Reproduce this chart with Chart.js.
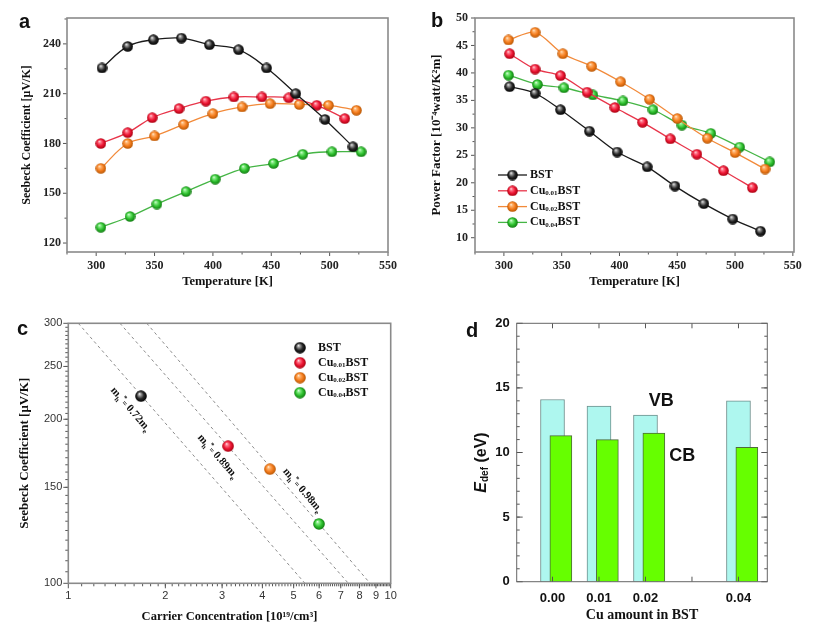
<!DOCTYPE html>
<html>
<head>
<meta charset="utf-8">
<title>Seebeck, power factor, Pisarenko plot and deformation potential of Cu-doped BST</title>
<script src="https://cdn.jsdelivr.net/npm/chart.js@4.4.1/dist/chart.umd.min.js"></script>
<style>
html,body{margin:0;padding:0;background:#fff;}
#wrap{position:relative;width:820px;height:636px;overflow:hidden;background:#fff;}
#wrap canvas{position:absolute;}
.pl{position:absolute;font-family:"Liberation Sans",Arial,sans-serif;font-weight:bold;font-size:20px;line-height:20px;color:#111;}
</style>
</head>
<body>
<div id="wrap">
  <canvas id="cA" width="410" height="300" style="left:0;top:0;"></canvas>
  <canvas id="cB" width="410" height="300" style="left:410px;top:0;"></canvas>
  <canvas id="cC" width="410" height="336" style="left:0;top:300px;"></canvas>
  <canvas id="cD" width="410" height="336" style="left:410px;top:300px;"></canvas>
  <div class="pl" style="left:19px;top:11px;">a</div>
  <div class="pl" style="left:431px;top:10px;">b</div>
  <div class="pl" style="left:17px;top:318px;">c</div>
  <div class="pl" style="left:466px;top:320px;">d</div>
</div>
<script>
const SERIF = '"Liberation Serif","Times New Roman",serif';
const SANS = '"Liberation Sans",Arial,Helvetica,sans-serif';

/* ================= DATA ================= */
const seriesNames = ['BST', 'Cu0.01BST', 'Cu0.02BST', 'Cu0.04BST'];

// (a) Seebeck coefficient [uV/K] vs temperature [K]
const aTempBST  = [305, 327, 349, 373, 397, 422, 446, 471, 496, 520];
const aSeebBST  = [225.5, 238.5, 242.5, 243.5, 239.5, 236.5, 225.5, 210, 194.5, 178];
const aTempCu01 = [304, 327, 348, 371, 394, 418, 442, 465, 489, 513];
const aSeebCu01 = [180, 186.5, 195.5, 201, 205.5, 208, 208, 207.5, 203, 195];
const aTempCu02 = [304, 327, 350, 375, 400, 425, 449, 474, 499, 523];
const aSeebCu02 = [165, 180, 184.5, 191.5, 198, 202, 204, 203.5, 203, 200];
const aTempCu04 = [304, 329, 352, 377, 402, 427, 452, 477, 502, 527];
const aSeebCu04 = [129.5, 136, 143.5, 151, 158.5, 165, 168, 173.5, 175, 175];
const aXTicks = [300, 350, 400, 450, 500, 550];
const aYTicks = [120, 150, 180, 210, 240];

// (b) Power factor [1e-4 W/K^2 m] vs temperature [K]
const bTempBST  = [305, 327, 349, 374, 398, 424, 448, 473, 498, 522];
const bPfBST    = [37.5, 36.3, 33.3, 29.4, 25.6, 22.9, 19.4, 16.2, 13.4, 11.2];
const bTempCu01 = [305, 327, 349, 372, 396, 420, 444, 467, 490, 515];
const bPfCu01   = [43.5, 40.7, 39.5, 36.5, 33.7, 31.0, 28.0, 25.2, 22.2, 19.1];
const bTempCu02 = [304, 327, 351, 376, 401, 426, 450, 476, 500, 526];
const bPfCu02   = [46.0, 47.4, 43.5, 41.2, 38.4, 35.2, 31.7, 28.1, 25.5, 22.5];
const bTempCu04 = [304, 329, 352, 377, 403, 429, 454, 479, 504, 530];
const bPfCu04   = [39.6, 37.9, 37.3, 36.0, 34.9, 33.3, 30.5, 29.0, 26.5, 23.8];
const bXTicks = [300, 350, 400, 450, 500, 550];
const bYTicks = [10, 15, 20, 25, 30, 35, 40, 45, 50];

// (c) Pisarenko plot: Seebeck vs carrier concentration [1e19 /cm3]
const cCarrier = [1.68, 3.13, 4.22, 5.99];
const cSeebeck = [220.5, 178.5, 162, 128.5];
const massValues = ['0.72', '0.89', '0.98'];
const massLineS = [300, 100];
const massLineN072 = [1.074, 5.42];
const massLineN089 = [1.446, 7.39];
const massLineN098 = [1.751, 8.63];
const cXTicks = [1, 2, 3, 4, 5, 6, 7, 8, 9, 10];
const cYTicks = [100, 150, 200, 250, 300];

// (d) deformation potential E_def [eV] vs Cu amount
const dCu = [0.00, 0.01, 0.02, 0.04];
const dVB = [14.1, 13.6, 12.9, 14.0];
const dCB = [11.3, 11.0, 11.5, 10.4];
const dBandNames = ['VB', 'CB'];
const dXTicks = [0.00, 0.01, 0.02, 0.04];
const dYTicks = [0, 5, 10, 15, 20];

/* ================= STYLE HELPERS ================= */
const lineColors = ['#1b1b1b', '#e8354a', '#f28a3a', '#45b545'];
const ballColors = [
  ['#ffffff', '#a0a0a0', '#262626', '#000000'],
  ['#fff4f6', '#ff7a8c', '#ee1634', '#a3000e'],
  ['#fff8ec', '#ffb774', '#f57d1e', '#b35300'],
  ['#f2fff2', '#8aee8a', '#2fc12f', '#0d760d']
];
function makeBall(cols, d) {
  const c = document.createElement('canvas');
  c.width = d; c.height = d;
  const g = c.getContext('2d');
  const r = d / 2;
  const gr = g.createRadialGradient(r * 0.72, r * 0.6, 0, r, r, r);
  gr.addColorStop(0, cols[0]);
  gr.addColorStop(0.22, cols[1]);
  gr.addColorStop(0.6, cols[2]);
  gr.addColorStop(1, cols[3]);
  g.fillStyle = gr;
  g.beginPath(); g.arc(r, r, r - 0.2, 0, Math.PI * 2); g.fill();
  return c;
}
const ballsAB = ballColors.map(c => makeBall(c, 11));
const ballsC = ballColors.map(c => makeBall(c, 12));

function fixTicks(vals) { return s => { s.ticks = vals.map(v => ({ value: v })); }; }
function fixSize(prop, px) { return s => { s[prop] = px; }; }
function range(a, b, step) { const out = []; for (let v = a; v <= b + 1e-9; v += step) out.push(+v.toFixed(6)); return out; }

function seriesDS(label, xs, ys, i, balls, tension, size) {
  return {
    label, data: xs.map((x, k) => ({ x, y: ys[k] })),
    borderColor: lineColors[i], backgroundColor: lineColors[i], borderWidth: 1.3,
    pointStyle: balls[i], pointRadius: size, pointHoverRadius: size,
    tension, fill: false
  };
}

// frame + minor/major tick marks drawn on the library's scales
function makeFrame(cfg) {
  return {
    id: 'frame' + Math.random().toString(36).slice(2),
    afterDraw(chart) {
      const ctx = chart.ctx, a = chart.chartArea;
      ctx.save();
      ctx.strokeStyle = cfg.tickColor;
      cfg.marks.forEach(m => {
        const sc = chart.scales[m.scale];
        ctx.lineWidth = m.width || 1;
        m.values.forEach(v => {
          const p = sc.getPixelForValue(v);
          ctx.beginPath();
          if (m.side === 'bottom') { ctx.moveTo(p, a.bottom); ctx.lineTo(p, a.bottom + m.len); }
          else if (m.side === 'top') { ctx.moveTo(p, a.top); ctx.lineTo(p, a.top - m.len); }
          else if (m.side === 'left') { ctx.moveTo(a.left, p); ctx.lineTo(a.left - m.len, p); }
          else { ctx.moveTo(a.right, p); ctx.lineTo(a.right + m.len, p); }
          ctx.stroke();
        });
      });
      ctx.strokeStyle = cfg.frameColor; ctx.lineWidth = cfg.frameWidth;
      ctx.strokeRect(a.left, a.top, a.right - a.left, a.bottom - a.top);
      ctx.restore();
    }
  };
}

function drawCuLabel(ctx, name, x, y, size) {
  const m = /^Cu([\d.]+)BST$/.exec(name);
  const big = 'bold ' + size + 'px ' + SERIF, small = 'bold ' + Math.round(size * 0.6) + 'px ' + SERIF;
  ctx.textBaseline = 'middle'; ctx.textAlign = 'left';
  ctx.font = big;
  if (!m) { ctx.fillText(name, x, y); return; }
  ctx.fillText('Cu', x, y); x += ctx.measureText('Cu').width;
  ctx.font = small; ctx.fillText(m[1], x, y + size * 0.2); x += ctx.measureText(m[1]).width;
  ctx.font = big; ctx.fillText('BST', x, y);
}
function makeLegend(cfg) {
  return {
    id: 'legend' + Math.random().toString(36).slice(2),
    afterDraw(chart) {
      const ctx = chart.ctx;
      ctx.save();
      seriesNames.forEach((name, i) => {
        const y = cfg.y + i * cfg.dy;
        let x = cfg.x;
        const b = cfg.balls[i];
        if (cfg.lineLen) {
          ctx.strokeStyle = lineColors[i]; ctx.lineWidth = 1.3;
          ctx.beginPath(); ctx.moveTo(x, y); ctx.lineTo(x + cfg.lineLen, y); ctx.stroke();
          ctx.drawImage(b, x + cfg.lineLen / 2 - b.width / 2, y - b.height / 2);
          x += cfg.lineLen + cfg.gap;
        } else {
          ctx.drawImage(b, x - b.width / 2, y - b.height / 2);
          x += cfg.gap;
        }
        ctx.fillStyle = '#111';
        drawCuLabel(ctx, name, x, y, cfg.size);
      });
      ctx.restore();
    }
  };
}

const tickFontSerif = { family: SERIF, weight: 'bold', size: 12 };
const titleFontSerif = (s) => ({ family: SERIF, weight: 'bold', size: s });
const baseOpts = { responsive: false, animation: false, events: [] };
const noGrid = { display: false, drawTicks: false };

/* ================= (a) ================= */
new Chart(document.getElementById('cA'), {
  type: 'line',
  data: { datasets: [
    seriesDS(seriesNames[0], aTempBST, aSeebBST, 0, ballsAB, 0.4, 5.5),
    seriesDS(seriesNames[1], aTempCu01, aSeebCu01, 1, ballsAB, 0.4, 5.5),
    seriesDS(seriesNames[2], aTempCu02, aSeebCu02, 2, ballsAB, 0.4, 5.5),
    seriesDS(seriesNames[3], aTempCu04, aSeebCu04, 3, ballsAB, 0.4, 5.5)
  ]},
  options: Object.assign({}, baseOpts, {
    layout: { padding: { top: 18, right: 22, left: 0, bottom: 0 } },
    plugins: { legend: { display: false }, tooltip: { enabled: false } },
    scales: {
      x: { type: 'linear', min: 275, max: 550,
        afterBuildTicks: fixTicks(aXTicks), afterFit: fixSize('height', 48),
        grid: noGrid, border: { display: false },
        ticks: { font: tickFontSerif, color: '#222', padding: 7, autoSkip: false, maxRotation: 0 },
        title: { display: true, text: 'Temperature [K]', font: titleFontSerif(12.5), color: '#111', padding: { top: 0, bottom: 10.5 } } },
      y: { type: 'linear', min: 114.6, max: 255.6,
        afterBuildTicks: fixTicks(aYTicks), afterFit: fixSize('width', 67),
        grid: noGrid, border: { display: false },
        ticks: { font: tickFontSerif, color: '#222', padding: 6, autoSkip: false },
        title: { display: true, text: 'Seebeck Coefficient [μV/K]', font: titleFontSerif(12), color: '#111', padding: { top: 19.8, bottom: 0 } } }
    }
  }),
  plugins: [makeFrame({ tickColor: '#555', frameColor: '#8a8a8a', frameWidth: 1.6, marks: [
    { scale: 'x', side: 'bottom', values: aXTicks, len: 4 },
    { scale: 'x', side: 'bottom', values: range(275, 525, 50), len: 2.5 },
    { scale: 'y', side: 'left', values: aYTicks, len: 4 },
    { scale: 'y', side: 'left', values: range(135, 255, 30), len: 2.5 }
  ]})]
});

/* ================= (b) ================= */
new Chart(document.getElementById('cB'), {
  type: 'line',
  data: { datasets: [
    seriesDS(seriesNames[0], bTempBST, bPfBST, 0, ballsAB, 0.3, 5.5),
    seriesDS(seriesNames[1], bTempCu01, bPfCu01, 1, ballsAB, 0.3, 5.5),
    seriesDS(seriesNames[2], bTempCu02, bPfCu02, 2, ballsAB, 0.3, 5.5),
    seriesDS(seriesNames[3], bTempCu04, bPfCu04, 3, ballsAB, 0.3, 5.5)
  ]},
  options: Object.assign({}, baseOpts, {
    layout: { padding: { top: 18, right: 26, left: 0, bottom: 0 } },
    plugins: { legend: { display: false }, tooltip: { enabled: false } },
    scales: {
      x: { type: 'linear', min: 275, max: 551,
        afterBuildTicks: fixTicks(bXTicks), afterFit: fixSize('height', 48),
        grid: noGrid, border: { display: false },
        ticks: { font: tickFontSerif, color: '#222', padding: 7, autoSkip: false, maxRotation: 0 },
        title: { display: true, text: 'Temperature [K]', font: titleFontSerif(12.5), color: '#111', padding: { top: 0, bottom: 10.5 } } },
      y: { type: 'linear', min: 7.4, max: 50,
        afterBuildTicks: fixTicks(bYTicks), afterFit: fixSize('width', 65),
        grid: noGrid, border: { display: false },
        ticks: { font: tickFontSerif, color: '#222', padding: 7, autoSkip: false },
        title: { display: true, text: 'Power Factor [10⁻⁴watt/K²m]', font: titleFontSerif(13), color: '#111', padding: { top: 19, bottom: 0 } } }
    }
  }),
  plugins: [
    makeFrame({ tickColor: '#555', frameColor: '#8a8a8a', frameWidth: 1.6, marks: [
      { scale: 'x', side: 'bottom', values: bXTicks, len: 4 },
      { scale: 'x', side: 'bottom', values: range(275, 525, 50), len: 2.5 },
      { scale: 'y', side: 'left', values: bYTicks, len: 4 },
      { scale: 'y', side: 'left', values: range(12.5, 47.5, 5), len: 2.5 }
    ]}),
    makeLegend({ x: 88, y: 175, dy: 15.8, lineLen: 29, gap: 3, size: 12, balls: ballsAB })
  ]
});

/* ================= (c) ================= */
function dashDS(ns) {
  return {
    label: 'm*', data: ns.map((n, k) => ({ x: n, y: massLineS[k] })),
    showLine: true, borderColor: '#8c8c8c', borderWidth: 1, borderDash: [3, 3],
    pointRadius: 0, pointHoverRadius: 0, fill: false
  };
}
const massLines = [massLineN072, massLineN089, massLineN098];
const massTextPlugin = {
  id: 'massText',
  afterDatasetsDraw(chart) {
    const ctx = chart.ctx, xs = chart.scales.x, ys = chart.scales.y;
    const anchorN = [1.565, 2.913, 5.35], anchorS = [208.8, 171.2, 148.3];
    const f = 11;
    massValues.forEach((val, i) => {
      const ln = massLines[i];
      const x1 = xs.getPixelForValue(ln[0]), y1 = ys.getPixelForValue(massLineS[0]);
      const x2 = xs.getPixelForValue(ln[1]), y2 = ys.getPixelForValue(massLineS[1]);
      const ang = Math.atan2(y2 - y1, x2 - x1);
      const parts = [['m', 1, 0], ['h', 0.65, 3], ['*', 0.65, -4], ['= ', 0.75, 0], [val, 1, 0], ['m', 1, 0], ['e', 0.65, 3]];
      ctx.save();
      ctx.translate(xs.getPixelForValue(anchorN[i]), ys.getPixelForValue(anchorS[i]));
      ctx.rotate(ang);
      ctx.fillStyle = '#111'; ctx.textBaseline = 'alphabetic'; ctx.textAlign = 'left';
      let w = 0;
      parts.forEach(p => { ctx.font = 'bold ' + (f * p[1]) + 'px ' + SERIF; w += ctx.measureText(p[0]).width; });
      let x = -w / 2;
      parts.forEach(p => {
        ctx.font = 'bold ' + (f * p[1]) + 'px ' + SERIF;
        ctx.fillText(p[0], x, 3.5 + p[2]);
        x += ctx.measureText(p[0]).width;
      });
      ctx.restore();
    });
  }
};
const cTickFont = { family: SANS, size: 11 };
new Chart(document.getElementById('cC'), {
  type: 'scatter',
  data: { datasets: seriesNames.map((name, i) => ({
      label: name, data: [{ x: cCarrier[i], y: cSeebeck[i] }],
      pointStyle: ballsC[i], pointRadius: 6, pointHoverRadius: 6, showLine: false,
      backgroundColor: lineColors[i], borderColor: lineColors[i]
    })).concat(massLines.map(dashDS)) },
  options: Object.assign({}, baseOpts, {
    layout: { padding: { top: 23.3, right: 19.3, left: 0, bottom: 0 } },
    plugins: { legend: { display: false }, tooltip: { enabled: false } },
    scales: {
      x: { type: 'logarithmic', min: 1, max: 10,
        afterBuildTicks: fixTicks(cXTicks), afterFit: fixSize('height', 52.7),
        grid: noGrid, border: { display: false },
        ticks: { font: cTickFont, color: '#333', padding: 6, autoSkip: false, maxRotation: 0, callback: v => String(v) },
        title: { display: true, text: 'Carrier Concentration [10¹⁹/cm³]', font: titleFontSerif(12.5), color: '#111', padding: { top: 0, bottom: 11.5 } } },
      y: { type: 'logarithmic', min: 100, max: 300,
        afterBuildTicks: fixTicks(cYTicks), afterFit: fixSize('width', 68.3),
        grid: noGrid, border: { display: false },
        ticks: { font: cTickFont, color: '#333', padding: 6, autoSkip: false, callback: v => String(v) },
        title: { display: true, text: 'Seebeck Coefficient [μV/K]', font: titleFontSerif(13), color: '#111', padding: { top: 17, bottom: 0 } } }
    }
  }),
  plugins: [
    makeFrame({ tickColor: '#555', frameColor: '#8a8a8a', frameWidth: 1.6, marks: [
      { scale: 'x', side: 'bottom', values: cXTicks, len: 5 },
      { scale: 'x', side: 'bottom', values: range(1.1, 9.9, 0.1), len: 3 },
      { scale: 'y', side: 'left', values: cYTicks, len: 5 },
      { scale: 'y', side: 'left', values: range(105, 295, 5), len: 3 }
    ]}),
    massTextPlugin,
    makeLegend({ x: 300, y: 47.7, dy: 15, lineLen: 0, gap: 18, size: 12, balls: ballsC })
  ]
});

/* ================= (d) ================= */
const dXMin = -0.0077, dXMax = 0.0462, dShift = 0.0018;
const dTextPlugin = {
  id: 'dText',
  afterDraw(chart) {
    const ctx = chart.ctx, xs = chart.scales.x, ys = chart.scales.y, a = chart.chartArea;
    ctx.save();
    ctx.fillStyle = '#111';
    ctx.font = 'bold 18px ' + SANS; ctx.textAlign = 'center'; ctx.textBaseline = 'middle';
    const pos = [[0.0234, 13.97], [0.0279, 9.73]];
    dBandNames.forEach((t, i) => ctx.fillText(t, xs.getPixelForValue(pos[i][0]), ys.getPixelForValue(pos[i][1])));
    // y-axis title  E_def (eV)
    const parts = [['E', 'italic bold 16px ' + SANS, 0], ['def', 'bold 10px ' + SANS, 4], [' (eV)', 'bold 16px ' + SANS, 0]];
    let w = 0;
    parts.forEach(p => { ctx.font = p[1]; w += ctx.measureText(p[0]).width; });
    ctx.translate(71.7, (a.top + a.bottom) / 2 + 10);
    ctx.rotate(-Math.PI / 2);
    ctx.textAlign = 'left'; ctx.textBaseline = 'middle';
    let x = -w / 2;
    parts.forEach(p => { ctx.font = p[1]; ctx.fillText(p[0], x, p[2]); x += ctx.measureText(p[0]).width; });
    ctx.restore();
  }
};
const dTickFont = { family: SANS, weight: 'bold', size: 13 };
new Chart(document.getElementById('cD'), {
  type: 'bar',
  data: { datasets: [
    { label: dBandNames[0], data: dCu.map((x, k) => ({ x, y: dVB[k] })), xAxisID: 'x', yAxisID: 'y',
      backgroundColor: '#aef7ef', borderColor: '#6d8f8c', borderWidth: 1, barThickness: 24, grouped: false, order: 1 },
    { label: dBandNames[1], data: dCu.map((x, k) => ({ x, y: dCB[k] })), xAxisID: 'x2', yAxisID: 'y',
      backgroundColor: '#66ff00', borderColor: '#4d6b3a', borderWidth: 1, barThickness: 22, grouped: false, order: 0 }
  ]},
  options: Object.assign({}, baseOpts, {
    layout: { padding: { top: 23.3, right: 52.7, left: 0, bottom: 0 } },
    plugins: { legend: { display: false }, tooltip: { enabled: false } },
    scales: {
      x: { type: 'linear', min: dXMin, max: dXMax, offset: false,
        afterBuildTicks: fixTicks(dXTicks), afterFit: fixSize('height', 54.3),
        grid: { display: false, drawTicks: false, offset: false }, border: { display: false },
        ticks: { font: dTickFont, color: '#111', padding: 9, autoSkip: false, maxRotation: 0, callback: v => v.toFixed(2) },
        title: { display: true, text: 'Cu amount in BST', font: titleFontSerif(14), color: '#111', padding: { top: 0, bottom: 12.5 } } },
      x2: { type: 'linear', display: false, min: dXMin - dShift, max: dXMax - dShift, offset: false, grid: { offset: false } },
      y: { type: 'linear', min: 0, max: 20,
        afterBuildTicks: fixTicks(dYTicks), afterFit: fixSize('width', 106.7),
        grid: noGrid, border: { display: false },
        ticks: { font: dTickFont, color: '#111', padding: 7, autoSkip: false } }
    }
  }),
  plugins: [
    makeFrame({ tickColor: '#555', frameColor: '#666', frameWidth: 1, marks: [
      { scale: 'x', side: 'bottom', values: range(0, 0.04, 0.01), len: -5 },
      { scale: 'x', side: 'top', values: range(0, 0.04, 0.01), len: -5 },
      { scale: 'y', side: 'left', values: dYTicks, len: -6 },
      { scale: 'y', side: 'left', values: range(1, 19, 1), len: -3 },
      { scale: 'y', side: 'right', values: dYTicks, len: -6 },
      { scale: 'y', side: 'right', values: range(1, 19, 1), len: -3 }
    ]}),
    dTextPlugin
  ]
});
</script>
</body>
</html>
